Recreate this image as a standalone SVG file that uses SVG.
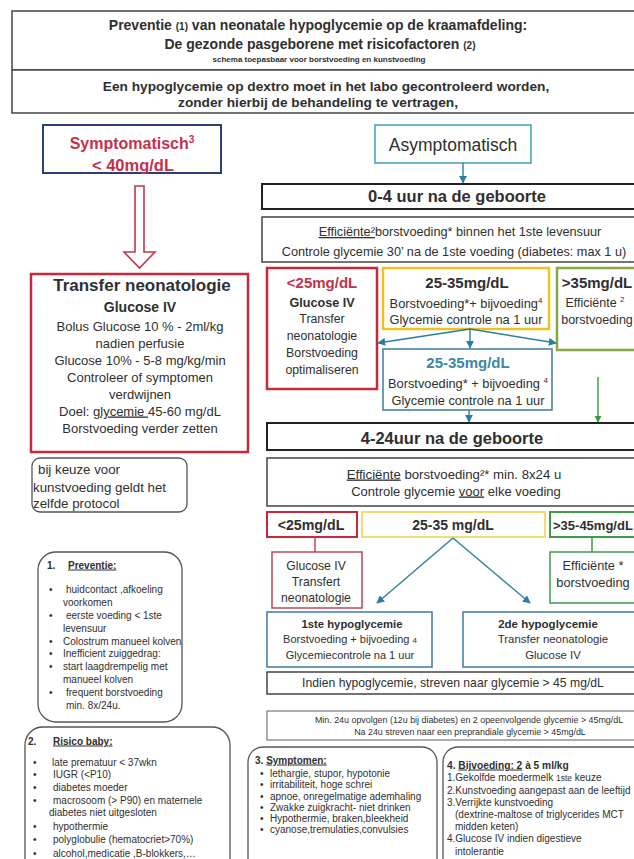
<svg xmlns="http://www.w3.org/2000/svg" width="634" height="859" viewBox="0 0 634 859">
<defs>
<style>
text{font-family:"Liberation Sans",Arial,sans-serif;fill:#2f2f2f}
.m{text-anchor:middle}
.b{font-weight:bold}
.u{text-decoration:underline}
.red{fill:#c5314a}
.teal{fill:#3a88a8}
.blk{fill:#fff;stroke:#222;stroke-width:2}
.gry{fill:#fff;stroke:#444;stroke-width:1.5}
.rnd{fill:#fff;stroke:#555;stroke-width:1.3}
.bl{fill:#fff;stroke:#4a82a6;stroke-width:1.6}
.con{fill:none;stroke:#2a7fa0;stroke-width:1.4}
</style>
<marker id="ahT" viewBox="0 0 10 10" refX="9" refY="5" markerWidth="8" markerHeight="8" markerUnits="userSpaceOnUse" orient="auto"><path d="M0,0 L10,5 L0,10 z" fill="#2a7fa0"/></marker>
<marker id="ahG" viewBox="0 0 10 10" refX="9" refY="5" markerWidth="7" markerHeight="7" markerUnits="userSpaceOnUse" orient="auto"><path d="M0,0 L10,5 L0,10 z" fill="#3a9a3a"/></marker>
</defs>
<rect width="634" height="859" fill="#fff"/>

<g id="title">
<rect x="12" y="11" width="640" height="59" class="gry"/>
<text x="318" y="30" class="m b" font-size="14">Preventie <tspan font-size="10">(1)</tspan> van neonatale hypoglycemie op de kraamafdeling:</text>
<text x="320" y="49" class="m b" font-size="14">De gezonde pasgeborene met risicofactoren <tspan font-size="10">(2)</tspan></text>
<text x="319" y="62" class="m b" font-size="8">schema toepasbaar voor borstvoeding en kunstvoeding</text>
</g>

<g id="warning">
<rect x="12" y="70" width="640" height="43" class="gry"/>
<text x="326" y="91" class="m b" font-size="13.7">Een hypoglycemie op dextro moet in het labo gecontroleerd worden,</text>
<text x="318" y="107" class="m b" font-size="13.7">zonder  hierbij de behandeling  te vertragen,</text>
</g>

<g id="symptomatisch">
<rect x="43" y="125" width="178" height="48" fill="#fff" stroke="#2c3e7a" stroke-width="2"/>
<text x="132" y="149" class="m b red" font-size="16">Symptomatisch<tspan font-size="10" dy="-6">3</tspan></text>
<text x="133" y="171" class="m b red" font-size="16.5">&lt; 40mg/dL</text>
</g>

<g id="transfer">
<rect x="31" y="274" width="217" height="178" fill="#fff" stroke="#c8283c" stroke-width="2.5"/>
<text x="142" y="291" class="m b" font-size="17">Transfer neonatologie</text>
<text x="140" y="312" class="m b" font-size="14">Glucose IV</text>
<text x="140" y="330.5" class="m" font-size="13">Bolus Glucose 10 % - 2ml/kg</text>
<text x="140" y="347.5" class="m" font-size="13">nadien perfusie</text>
<text x="140" y="364.5" class="m" font-size="13">Glucose 10% - 5-8 mg/kg/min</text>
<text x="140" y="381.5" class="m" font-size="13">Controleer of symptomen</text>
<text x="140" y="398.5" class="m" font-size="13">verdwijnen</text>
<text x="140" y="415.5" class="m" font-size="13">Doel: <tspan class="u">glycemie </tspan>45-60 mg/dL</text>
<text x="140" y="432.5" class="m" font-size="13">Borstvoeding verder zetten</text>
</g>

<g id="kunstvoeding">
<rect x="32" y="458" width="155" height="54" rx="8" class="rnd"/>
<text x="38" y="474" font-size="13.3">bij keuze voor</text>
<text x="33" y="492" font-size="13.3">kunstvoeding geldt het</text>
<text x="33" y="508" font-size="13.3">zelfde protocol</text>
</g>

<g id="preventie">
<rect x="38" y="552" width="144" height="170" rx="18" class="rnd"/>
<text x="47" y="568.5" class="b" font-size="10">1.</text>
<text x="68" y="568.5" class="b u" font-size="10">Preventie:</text>
<g font-size="10">
<text x="49" y="592.5">•</text><text x="66" y="592.5">huidcontact ,afkoeling</text>
<text x="63" y="605.5">voorkomen</text>
<text x="49" y="618.5">•</text><text x="66" y="618.5">eerste voeding &lt; 1ste</text>
<text x="63" y="631.5">levensuur</text>
<text x="49" y="644.5">•</text><text x="63" y="644.5">Colostrum manueel kolven</text>
<text x="49" y="656.5">•</text><text x="63" y="656.5">Inefficient zuiggedrag:</text>
<text x="49" y="670">•</text><text x="63" y="670">start laagdrempelig met</text>
<text x="63" y="682.5">manueel kolven</text>
<text x="49" y="695.5">•</text><text x="66" y="695.5">frequent borstvoeding</text>
<text x="66" y="708.5">min. 8x/24u.</text>
</g>
</g>

<g id="risico">
<rect x="25" y="727" width="205" height="150" rx="18" class="rnd"/>
<text x="28" y="744.5" class="b" font-size="10">2.</text>
<text x="53" y="744.5" class="b u" font-size="10">Risico baby:</text>
<g font-size="10">
<text x="33" y="765.5">•</text><text x="52" y="765.5">late prematuur  &lt; 37wkn</text>
<text x="33" y="777.5">•</text><text x="53" y="777.5">IUGR (&lt;P10)</text>
<text x="33" y="790.5">•</text><text x="53" y="790.5">diabetes moeder</text>
<text x="33" y="803.5">•</text><text x="53" y="803.5">macrosoom (&gt; P90) en maternele</text>
<text x="49" y="815.5">diabetes niet uitgesloten</text>
<text x="33" y="829.5">•</text><text x="53" y="829.5">hypothermie</text>
<text x="33" y="842.5">•</text><text x="53" y="842.5">polyglobulie (hematocriet&gt;70%)</text>
<text x="33" y="856.5">•</text><text x="53" y="856.5">alcohol,medicatie ,B-blokkers,…</text>
</g>
</g>

<g id="asymptomatisch">
<rect x="375" y="125" width="156" height="38" fill="#fff" stroke="#4fa3c7" stroke-width="1.6"/>
<text x="453" y="151" class="m" font-size="17.5">Asymptomatisch</text>
</g>

<g id="h0-4">
<rect x="262" y="184" width="390" height="25" class="blk"/>
<text x="457" y="202" class="m b" font-size="16.5">0-4 uur na de geboorte</text>
</g>

<g id="efficiente1">
<rect x="262" y="217" width="390" height="45" class="gry"/>
<text x="460" y="236" class="m" font-size="12.7"><tspan class="u">Efficiënte²</tspan>borstvoeding* binnen het 1ste levensuur</text>
<text x="454" y="255.5" class="m" font-size="12.7">Controle glycemie 30’ na de 1ste voeding (diabetes: max 1 u)</text>
</g>

<g id="r1-red">
<rect x="267" y="268" width="110" height="121" fill="#fff" stroke="#c8283c" stroke-width="2.5"/>
<text x="322" y="288" class="m b red" font-size="15">&lt;25mg/dL</text>
<text x="322" y="306.5" class="m b" font-size="12.6">Glucose IV</text>
<text x="322" y="323.3" class="m" font-size="12.3">Transfer</text>
<text x="322" y="340.3" class="m" font-size="12.3">neonatologie</text>
<text x="322" y="357.3" class="m" font-size="12.3">Borstvoeding</text>
<text x="322" y="374.3" class="m" font-size="12.3">optimaliseren</text>
</g>

<g id="r1-yellow">
<rect x="383" y="268" width="166" height="61" fill="#fff" stroke="#f0c21c" stroke-width="2.5"/>
<text x="467" y="288" class="m b" font-size="15">25-35mg/dL</text>
<text x="466" y="307.5" class="m" font-size="12.8">Borstvoeding*+ bijvoeding<tspan font-size="8" dy="-5">4</tspan></text>
<text x="466" y="323.5" class="m" font-size="12.8">Glycemie controle na 1 uur</text>
</g>

<g id="r1-green">
<rect x="557" y="268" width="90" height="82" fill="#fff" stroke="#8aa64a" stroke-width="2.5"/>
<text x="597" y="288" class="m b" font-size="15">&gt;35mg/dL</text>
<text x="595" y="306.5" class="m" font-size="12.5">Efficiënte <tspan font-size="8" dy="-5">2</tspan></text>
<text x="597" y="323.5" class="m" font-size="12.5">borstvoeding</text>
</g>

<g id="r1-blue">
<rect x="383" y="349" width="169" height="61" class="bl"/>
<text x="468" y="368" class="m b teal" font-size="15">25-35mg/dL</text>
<text x="468" y="387.5" class="m" font-size="12.8">Borstvoeding* + bijvoeding <tspan font-size="8" dy="-5">4</tspan></text>
<text x="468" y="404.5" class="m" font-size="12.8">Glycemie controle na 1 uur</text>
</g>

<g id="h4-24">
<rect x="267" y="423" width="385" height="27" class="blk"/>
<text x="452" y="443.5" class="m b" font-size="16.5">4-24uur na de geboorte</text>
</g>

<g id="efficiente2">
<rect x="267" y="458" width="385" height="48" class="gry"/>
<text x="454" y="478.5" class="m" font-size="13.2"><tspan class="u">Efficiënte</tspan> borstvoeding²* min. 8x24 u</text>
<text x="456" y="495.5" class="m" font-size="13">Controle glycemie <tspan class="u">voor</tspan> elke voeding</text>
</g>

<g id="r2-red">
<rect x="267" y="512" width="90" height="25" fill="#fff" stroke="#c8283c" stroke-width="2"/>
<text x="311" y="530" class="m b" font-size="14.2">&lt;25mg/dL</text>
</g>

<g id="r2-yellow">
<rect x="362" y="512" width="183" height="25" fill="#fff" stroke="#f3dc70" stroke-width="2"/>
<text x="453" y="530" class="m b" font-size="14">25-35 mg/dL</text>
</g>

<g id="r2-green">
<rect x="550" y="512" width="100" height="25" fill="#fff" stroke="#3c9a48" stroke-width="2"/>
<text x="553" y="530" class="b" font-size="13">&gt;35-45mg/dL</text>
</g>

<g id="r3-red">
<rect x="272" y="552" width="90" height="56" fill="#fff" stroke="#b8485a" stroke-width="1.5"/>
<text x="316" y="569.5" class="m" font-size="12.2">Glucose IV</text>
<text x="316" y="586" class="m" font-size="12.2">Transfert</text>
<text x="316" y="601.5" class="m" font-size="12.2">neonatologie</text>
</g>

<g id="r3-green">
<rect x="550" y="552" width="100" height="51" fill="#fff" stroke="#3c9a48" stroke-width="1.5"/>
<text x="593" y="569.5" class="m" font-size="12.8">Efficiënte *</text>
<text x="593" y="586.5" class="m" font-size="12.8">borstvoeding</text>
</g>

<g id="hypo1">
<rect x="267" y="612" width="165" height="55" class="bl"/>
<text x="352" y="628" class="m b" font-size="11.3">1ste hypoglycemie</text>
<text x="350" y="643" class="m" font-size="11">Borstvoeding + bijvoeding <tspan font-size="8">4</tspan></text>
<text x="350" y="659" class="m" font-size="11">Glycemiecontrole na 1 uur</text>
</g>

<g id="hypo2">
<rect x="463" y="612" width="185" height="55" class="bl"/>
<text x="548" y="628" class="m b" font-size="11.5">2de  hypoglycemie</text>
<text x="553" y="643" class="m" font-size="11.4">Transfer neonatologie</text>
<text x="553" y="659" class="m" font-size="11.4">Glucose IV</text>
</g>

<g id="indien">
<rect x="267" y="672" width="385" height="22" class="gry"/>
<text x="453" y="687.3" class="m" font-size="12.2">Indien hypoglycemie, streven naar glycemie  &gt; 45 mg/dL</text>
</g>

<g id="opvolgen">
<rect x="267" y="711" width="385" height="29" fill="#fff" stroke="#777" stroke-width="1.2"/>
<text x="469" y="723" class="m" font-size="8.9">Min. 24u opvolgen (12u bij diabetes) en 2 opeenvolgende  glycemie &gt; 45mg/dL</text>
<text x="470" y="735" class="m" font-size="8.9">Na  24u streven naar een preprandiale glycemie &gt; 45mg/dL</text>
</g>

<g id="symptomen">
<rect x="248" y="747" width="189" height="130" rx="15" class="rnd"/>
<text x="255" y="763.5" class="b" font-size="10">3. <tspan class="u">Symptomen:</tspan></text>
<g font-size="10">
<text x="260" y="776.5">•</text><text x="270" y="776.5">lethargie, stupor, hypotonie</text>
<text x="260" y="787.5">•</text><text x="270" y="787.5">irritabiliteit, hoge schrei</text>
<text x="260" y="799.5">•</text><text x="270" y="799.5">apnoe, onregelmatige ademhaling</text>
<text x="260" y="810.5">•</text><text x="270" y="810.5">Zwakke zuigkracht- niet drinken</text>
<text x="260" y="821.5">•</text><text x="270" y="821.5">Hypothermie, braken,bleekheid</text>
<text x="260" y="832.5">•</text><text x="270" y="832.5">cyanose,tremulaties,convulsies</text>
</g>
</g>

<g id="bijvoeding">
<rect x="443" y="747" width="210" height="130" rx="15" class="rnd"/>
<text x="447" y="768.5" class="b" font-size="10.2">4. <tspan class="u">Bijvoeding:  2</tspan> à 5 ml/kg</text>
<g font-size="10">
<text x="447" y="780.5">1.Gekolfde moedermelk <tspan font-size="8.5">1ste</tspan> keuze</text>
<text x="447" y="793.5">2.Kunstvoeding aangepast aan de leeftijd</text>
<text x="447" y="805.5">3.Verrijkte kunstvoeding</text>
<text x="455" y="817.5">(dextrine-maltose of triglycerides  MCT</text>
<text x="455" y="829.5">midden keten)</text>
<text x="447" y="841.5">4.Glucose IV indien digestieve</text>
<text x="455" y="854.5">intolerantie</text>
</g>
</g>

<g id="connectors">
<path d="M135,186 H144 V252 H155 L139.5,268 L124,252 H135 Z" fill="#fff" stroke="#c0394d" stroke-width="1.6" stroke-linejoin="miter"/>
<line x1="463" y1="163" x2="463" y2="183" class="con" marker-end="url(#ahT)"/>
<line x1="470" y1="329" x2="378" y2="343" class="con" marker-end="url(#ahT)"/>
<line x1="470" y1="329" x2="470" y2="348" class="con" marker-end="url(#ahT)"/>
<line x1="470" y1="329" x2="556" y2="343" class="con" marker-end="url(#ahT)"/>
<line x1="469" y1="410" x2="469" y2="422" class="con" marker-end="url(#ahT)"/>
<line x1="598" y1="377" x2="598" y2="422" fill="none" stroke="#3a9a3a" stroke-width="1.4" marker-end="url(#ahG)"/>
<line x1="315" y1="537" x2="315" y2="552" stroke="#c0485a" stroke-width="1.5"/>
<line x1="592" y1="537" x2="592" y2="552" stroke="#3c9a48" stroke-width="1.5"/>
<line x1="453" y1="538" x2="377" y2="603" class="con" marker-end="url(#ahT)"/>
<line x1="453" y1="538" x2="530" y2="603" class="con" marker-end="url(#ahT)"/>
</g>
</svg>
